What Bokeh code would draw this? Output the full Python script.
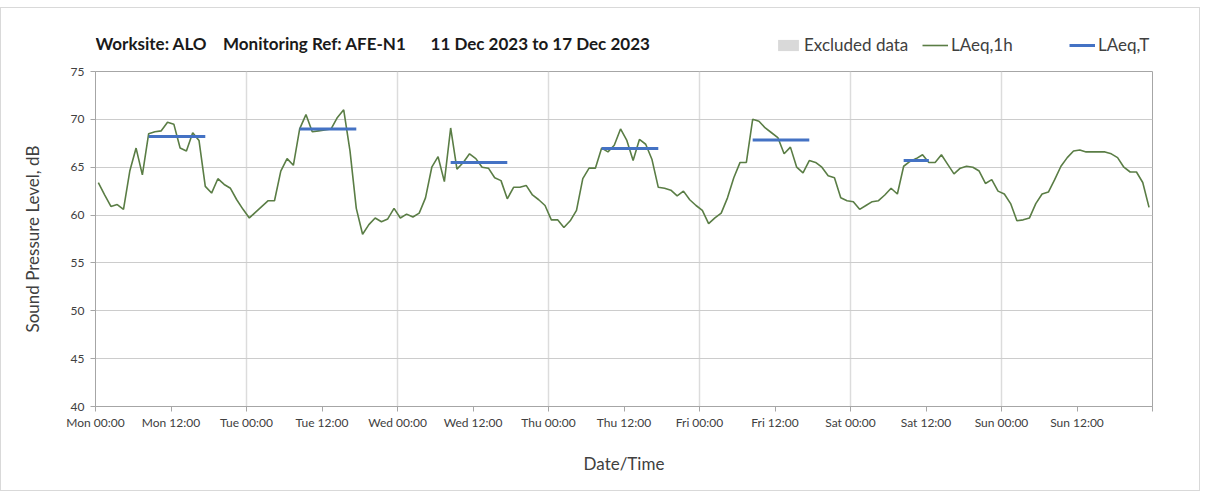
import numpy as np
from bokeh.plotting import figure
from bokeh.layouts import column
from bokeh.models import FixedTicker, Legend, LegendItem, ColumnDataSource, Range1d, Label
from bokeh.embed import file_html
from bokeh.resources import INLINE

# ---------------- data ----------------
hours = list(range(168))  # hourly readings from Mon 00:00 (11 Dec 2023)
laeq_1h = [
    63.4, 62.1, 60.9, 61.1, 60.6, 64.6, 67.0, 64.2, 68.5, 68.7, 68.8, 69.7,
    69.5, 67.0, 66.7, 68.6, 67.8, 63.0, 62.3, 63.8, 63.2, 62.8, 61.6, 60.6,
    59.7, 60.3, 60.9, 61.5, 61.5, 64.6, 65.9, 65.2, 69.0, 70.5, 68.7, 68.8,
    68.9, 69.0, 70.2, 71.0, 66.7, 60.7, 58.0, 59.0, 59.7, 59.3, 59.6, 60.7,
    59.7, 60.1, 59.8, 60.2, 61.8, 65.0, 66.1, 63.5, 69.1, 64.8, 65.5, 66.4,
    65.9, 65.0, 64.9, 63.9, 63.6, 61.7, 62.9, 62.9, 63.1, 62.1, 61.6, 61.0,
    59.5, 59.5, 58.7, 59.4, 60.5, 63.8, 64.9, 64.9, 67.0, 66.6, 67.3, 69.0,
    67.8, 65.7, 67.9, 67.4, 65.8, 62.9, 62.8, 62.6, 62.0, 62.5, 61.6, 61.0,
    60.5, 59.1, 59.7, 60.2, 61.8, 63.9, 65.5, 65.5, 70.0, 69.8, 69.1, 68.6,
    68.1, 66.4, 67.1, 65.0, 64.4, 65.7, 65.5, 65.0, 64.1, 63.9, 61.8, 61.5,
    61.4, 60.6, 61.0, 61.4, 61.5, 62.1, 62.8, 62.2, 65.1, 65.6, 65.9, 66.3,
    65.5, 65.5, 66.3, 65.3, 64.3, 64.9, 65.1, 65.0, 64.6, 63.3, 63.7, 62.5,
    62.2, 61.2, 59.4, 59.5, 59.7, 61.2, 62.2, 62.4, 63.7, 65.1, 66.0, 66.7,
    66.8, 66.6, 66.6, 66.6, 66.6, 66.4, 66.0, 65.0, 64.5, 64.5, 63.4, 60.8,
]
laeq_t_start = [8, 32, 56, 80, 104, 128]
laeq_t_end = [17, 41, 65, 89, 113, 132]
laeq_t_value = [68.2, 69.0, 65.5, 66.95, 67.85, 65.7]
excluded_start = [np.nan]   # no excluded periods this week
excluded_end = [np.nan]

tick_hours = list(range(0, 169, 12))
tick_labels = ["Mon 00:00", "Mon 12:00", "Tue 00:00", "Tue 12:00", "Wed 00:00",
               "Wed 12:00", "Thu 00:00", "Thu 12:00", "Fri 00:00", "Fri 12:00",
               "Sat 00:00", "Sat 12:00", "Sun 00:00", "Sun 12:00", ""]
day_hours = list(range(0, 169, 24))

NB = "\u00a0"
title_text = ("Worksite: ALO" + NB * 4 + "Monitoring Ref: AFE-N1" + NB * 6 +
              "11 Dec 2023 to 17 Dec 2023")

# readings are time-stamped slightly after the hour
t = np.array(hours) + 0.45

FONT = "Lato"
TXT = "#404040"
AX = "#a6a6a6"
GREEN = "#5a7d45"
BLUE = "#4472C4"
GREY = "#d9d9d9"
W = 1198
FRAME_W = 1057

# ---------------- header (title + legend) ----------------
hdr = figure(width=W, height=53, x_range=Range1d(0, FRAME_W), y_range=Range1d(0, 53),
             output_backend="svg", toolbar_location=None, title=None,
             min_border=0, min_border_left=0, min_border_right=0,
             min_border_top=0, min_border_bottom=0)
hdr.axis.visible = False
hdr.grid.visible = False
hdr.outline_line_color = None

hdr.add_layout(Label(x=0, y=18, text=title_text, text_baseline="middle",
                     text_font=FONT, text_font_size="17px", text_font_style="bold",
                     text_color="#1a1a1a"))

excl_key = hdr.quad(left=excluded_start, right=excluded_end, top=[75], bottom=[40],
                    fill_color=GREY, line_color=None)
gl_key = hdr.line(x=excluded_start, y=excluded_end, line_color=GREEN, line_width=1.6)
bl_key = hdr.line(x=excluded_start, y=excluded_end, line_color=BLUE, line_width=3)
legend = Legend(items=[LegendItem(label="Excluded data", renderers=[excl_key]),
                       LegendItem(label="LAeq,1h", renderers=[gl_key]),
                       LegendItem(label="LAeq,T", renderers=[bl_key])],
                location=(680, 6), orientation="horizontal",
                label_width=118, spacing=0, padding=0, margin=0,
                border_line_color=None, background_fill_alpha=0,
                glyph_width=26, glyph_height=14, label_standoff=3, label_height=20,
                label_text_font=FONT, label_text_font_size="17px", label_text_color=TXT)
hdr.add_layout(legend)

# ---------------- main chart ----------------
p = figure(width=W, height=429, x_range=Range1d(0, 168), y_range=Range1d(40, 75),
           output_backend="svg", toolbar_location=None, title=None,
           min_border_left=94, min_border_right=47, min_border_top=10, min_border_bottom=84)

p.quad(left=excluded_start, right=excluded_end, top=[75], bottom=[40],
       fill_color=GREY, line_color=None)
src = ColumnDataSource(dict(t=t, v=laeq_1h))
p.line("t", "v", source=src, line_color=GREEN, line_width=1.6)
p.segment(x0=np.array(laeq_t_start) + 0.45, x1=np.array(laeq_t_end) + 0.45,
          y0=laeq_t_value, y1=laeq_t_value, line_color=BLUE, line_width=3)

p.xaxis.ticker = FixedTicker(ticks=tick_hours)
p.xaxis.major_label_overrides = {h: l for h, l in zip(tick_hours, tick_labels)}
p.yaxis.ticker = FixedTicker(ticks=list(range(40, 76, 5)))
for ax in (p.xaxis, p.yaxis):
    ax.axis_line_color = AX
    ax.major_tick_line_color = AX
    ax.minor_tick_line_color = None
    ax.major_tick_in = 0
    ax.major_tick_out = 5
    ax.major_label_text_font = FONT
    ax.major_label_text_font_size = "12px"
    ax.major_label_text_color = TXT
    ax.axis_label_text_font = FONT
    ax.axis_label_text_font_size = "17px"
    ax.axis_label_text_font_style = "normal"
    ax.axis_label_text_color = TXT
p.xaxis.axis_label = "Date/Time"
p.yaxis.axis_label = "Sound Pressure Level, dB"
p.xaxis.major_label_standoff = 3
p.yaxis.major_label_standoff = 6
p.xaxis.axis_label_standoff = 20
p.yaxis.axis_label_standoff = 25

p.xgrid.ticker = FixedTicker(ticks=day_hours)
p.xgrid.grid_line_color = "#dcdcdc"
p.xgrid.grid_line_width = 1.5
p.ygrid.grid_line_color = "#cccccc"
p.ygrid.grid_line_width = 1
p.outline_line_color = AX

layout = column(hdr, p, spacing=0)
layout.styles = {"border": "1px solid #d9d9d9", "margin-top": "7px"}

open("out.html", "w").write(file_html(layout, INLINE))
